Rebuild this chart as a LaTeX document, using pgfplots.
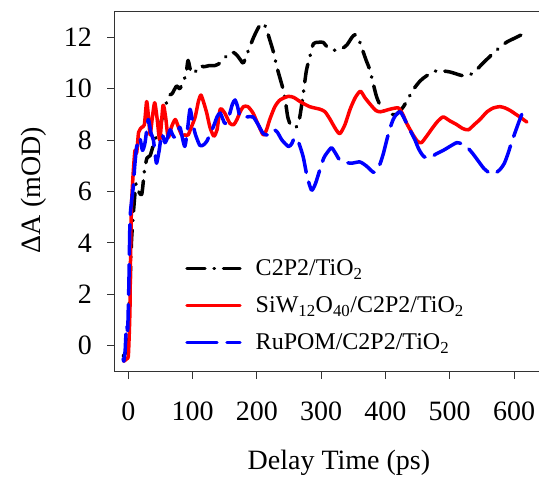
\documentclass[border=0pt]{standalone}
\usepackage{fontspec}
\setmainfont{Liberation Serif}
\usepackage{pgfplots}
\pgfplotsset{compat=1.18}
\begin{document}
\begin{tikzpicture}
\begin{axis}[
  at={(0,0)}, anchor=south west,
  scale only axis, width=427.5pt, height=360pt,
  xmin=-21.5, xmax=643.5, ymin=-1, ymax=13,
  xtick={0,100,...,600}, ytick={0,2,...,12},
  xtick pos=bottom, ytick pos=left,
  tick align=outside, major tick length=7pt,
  axis line style={line width=0.9pt, draw=black!80},
  tick style={line width=0.9pt, draw=black!80},
  /pgf/number format/assume math mode=true,
  ticklabel style={font=\fontsize{28}{30}\selectfont},
  xticklabel style={yshift=-20pt},
  yticklabel style={xshift=-12pt},
  xlabel={Delay Time (ps)}, ylabel={ΔA (mOD)},
  label style={font=\fontsize{28}{30}\selectfont},
  xlabel style={at={(axis description cs:0.525,-0.254)}, anchor=center},
  ylabel style={at={(axis description cs:-0.188,0.504)}, anchor=center, rotate=0},
  legend style={draw=none, fill=none, at={(axis description cs:0.158,0.322)}, anchor=north west,
    font=\fontsize{24}{29}\selectfont, row sep=15.5pt, legend cell align=left,
    /tikz/every even column/.append style={column sep=0pt}},
  legend image code/.code={\draw[#1] (0pt,0pt) -- (53pt,0pt); \path (65pt,0pt);},
  every axis plot/.append style={line width=3.5pt, line cap=round, line join=round},
]
\addplot[black, smooth, tension=0.4, dash pattern=on 18pt off 9pt on 0.5pt off 9pt] coordinates {
(-8,-0.4) (-3,-0.2) (0,0.5) (2.6,2.3) (5,4.1) (8,5.2) (12,6.3) (16,6.0) (21,5.9) (25,6.8) (29,7.3) (34,7.4) (40,7.9) (46,8.3) (52,8.8) (57,9.2) (62,9.7) (68,9.8) (75,10.1) (80,10.0) (86,10.3) (90,10.6) (93,11.1) (98,10.6) (106,10.7) (112,10.9) (117,10.85) (127,10.9) (135,10.9) (143,11.0) (150,11.2) (158,11.4) (164,11.4) (169,11.3) (175,11.1) (179,11.0) (187,11.5) (195,12.0) (203,12.4) (210,12.55) (215,12.3) (220,11.9) (226,11.4) (231,10.85) (236,10.4) (241,9.95) (245,9.4) (248,8.9) (252,8.6) (256,8.5) (261,8.5) (266,8.8) (271,9.6) (277,10.7) (283,11.3) (288,11.75) (295,11.8) (303,11.8) (310,11.6) (318,11.5) (325,11.5) (332,11.55) (340,11.7) (348,12.0) (353,12.1) (358,11.95) (363,11.6) (370,11.1) (376,10.7) (386,9.7) (394,9.25) (402,9.05) (410,9.0) (417,9.0) (428,9.3) (443,9.95) (454,10.3) (464,10.5) (480,10.7) (500,10.65) (521,10.5) (536,10.6) (552,11.0) (573,11.5) (588,11.8) (604,12.0) (620,12.2)
};
\addlegendentry{C2P2/TiO\textsubscript{2}}
\addplot[red, smooth, tension=0.4] coordinates {
(-7,-0.6) (-2,-0.5) (0,-0.4) (1.5,0.5) (2.6,1.5) (3.5,3.5) (5,5.5) (7.8,6.8) (10.4,7.6) (13,7.5) (16,8.3) (21,8.5) (25,8.6) (28.6,9.5) (32,8.7) (34,8.2) (37,8.8) (41,9.45) (45,8.8) (49,8.0) (54,9.35) (58,8.9) (62,8.1) (67,8.5) (73,8.8) (78,8.5) (83,8.2) (88,8.2) (93,8.2) (98,8.5) (104,8.9) (109,9.5) (113,9.75) (118,9.4) (122,9.05) (127,8.5) (133,8.15) (138,8.4) (143,9.2) (150,9.05) (158,8.65) (164,8.6) (169,8.8) (174,9.1) (179,9.3) (186,9.3) (194,9.05) (202,8.6) (210,8.2) (215,8.4) (220,8.8) (228,9.3) (236,9.56) (249,9.7) (258,9.65) (267,9.5) (282,9.3) (298,9.2) (306,9.1) (314,8.8) (322,8.45) (329,8.25) (337,8.6) (345,9.2) (353,9.65) (361,9.9) (368,9.65) (376,9.4) (385,9.15) (392,9.1) (400,9.15) (407,9.2) (420,9.25) (427,9.0) (433,8.65) (443,8.2) (450,7.95) (456,7.9) (464,8.15) (474,8.5) (482,8.75) (490,8.9) (500,8.75) (511,8.6) (520,8.45) (529,8.4) (538,8.6) (547,8.8) (558,9.1) (568,9.25) (578,9.3) (586,9.25) (594,9.15) (603,9.0) (609,8.9) (620,8.7)
};
\addlegendentry{SiW\textsubscript{12}O\textsubscript{40}/C2P2/TiO\textsubscript{2}}
\addplot[blue, smooth, tension=0.4, dash pattern=on 30pt off 10pt] coordinates {
(-8,-0.5) (-7,-0.6) (-5,-0.2) (-4,0.3) (-2.5,0.8) (-1,0.6) (0,1.5) (1,2.6) (2.6,4.9) (5,5.6) (7.8,6.2) (10,7.0) (13,7.75) (16,7.9) (18,8.1) (22,7.6) (26,7.9) (31,8.8) (35,8.3) (39,8.0) (42,7.4) (44,7.1) (48,7.6) (52,8.25) (57,7.9) (61,8.1) (65,8.4) (69,8.2) (73,8.1) (80,8.5) (84,8.1) (88,7.75) (92,8.4) (96,9.2) (100,8.7) (104,8.25) (111,7.8) (116,7.8) (122,7.95) (132,8.5) (138,8.9) (143,9.05) (150,8.65) (155,8.8) (158,9.05) (162,9.4) (166,9.56) (170,9.3) (174,8.9) (184,8.9) (194,8.9) (202,8.6) (210,8.25) (218,8.2) (226,8.4) (232,8.3) (239,8.0) (249,7.75) (254,7.85) (259,8.1) (265,7.9) (272,7.35) (278,6.6) (285,6.05) (291,6.3) (298,6.85) (304,7.3) (309,7.5) (316,7.7) (322,7.5) (328,7.25) (334,7.15) (347,7.1) (360,7.15) (370,7.0) (381,6.75) (386,6.8) (392,7.1) (397,7.5) (402,8.0) (407,8.45) (412,8.8) (417,9.0) (423,9.1) (428,8.9) (433,8.65) (440,8.3) (446,8.0) (450,7.75) (454,7.55) (460,7.35) (469,7.3) (478,7.45) (490,7.6) (500,7.75) (511,7.9) (519,7.85) (526,7.75) (535,7.5) (544,7.2) (553,6.9) (563,6.7) (570,6.7) (578,6.85) (585,7.1) (591,7.5) (596,7.9) (601,8.25) (606,8.6) (612,9.0)
};
\addlegendentry{RuPOM/C2P2/TiO\textsubscript{2}}
\end{axis}
\pgfresetboundingbox
\path[use as bounding box] (-114.5pt,-108.5pt) rectangle (424.5pt,371.5pt);
\end{tikzpicture}
\end{document}
